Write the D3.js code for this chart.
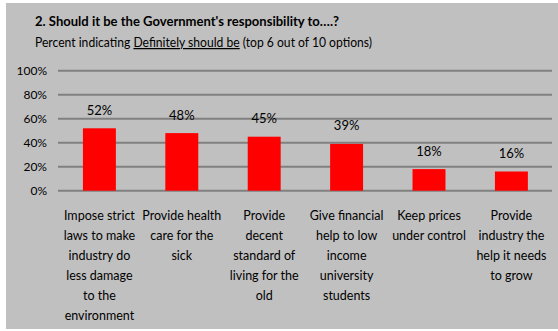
<!DOCTYPE html>
<html><head><meta charset="utf-8">
<script src="https://cdn.jsdelivr.net/npm/d3@7"></script>
<style>
html,body{margin:0;padding:0;background:#fff;}
svg{display:block;font-family:Lato,"Open Sans",sans-serif;}
</style></head>
<body>
<svg id="chart" width="558" height="331"></svg>
<script>
const categories = [
  ["Impose strict","laws to make","industry do","less damage","to the","environment"],
  ["Provide health","care for the","sick"],
  ["Provide","decent","standard of","living for the","old"],
  ["Give financial","help to low","income","university","students"],
  ["Keep prices","under control"],
  ["Provide","industry the","help it needs","to grow"]
];
const values = [52, 48, 45, 39, 18, 16];
const yTicks = [0, 20, 40, 60, 80, 100];
const title = "2. Should it be the Government's responsibility to\u2026.?";

const svg = d3.select("#chart");
svg.append("rect").attr("x",6).attr("y",3).attr("width",552).attr("height",326).attr("fill","#c0c0c0");

svg.append("text").attr("x",35).attr("y",26).attr("font-size",14).attr("font-weight","bold").attr("fill","#000")
  .attr("textLength",304).attr("lengthAdjust","spacingAndGlyphs").text(title);
const sub = svg.append("text").attr("x",35).attr("y",47).attr("font-size",12.5).attr("fill","#000")
  .attr("textLength",337).attr("lengthAdjust","spacingAndGlyphs");
sub.append("tspan").text("Percent indicating ");
sub.append("tspan").attr("text-decoration","underline").text("Definitely should be");
sub.append("tspan").text(" (top 6 out of 10 options)");

const x = d3.scaleBand().domain(d3.range(values.length)).range([58.2, 552.6]).paddingInner(0.6).paddingOuter(0.3);
const y = d3.scaleLinear().domain([0,100]).range([190.7, 70.7]);

const grid = svg.append("g");
grid.selectAll("line").data(yTicks).join("line")
  .attr("x1",58).attr("x2",552)
  .attr("y1",d=>y(d)).attr("y2",d=>y(d))
  .attr("stroke","#808080").attr("stroke-width",2);

const yAxis = d3.axisLeft(y).tickValues(yTicks).tickFormat(d=>d+"%").tickSize(0).tickPadding(0);
const ya = svg.append("g").attr("transform","translate(47,0)").call(yAxis);
ya.select(".domain").remove();
ya.selectAll("text").attr("font-size",12).attr("font-family","Lato,'Open Sans',sans-serif").attr("fill","#000").attr("dy","0.35em");

svg.append("g").selectAll("rect").data(values).join("rect")
  .attr("x",(d,i)=>x(i)).attr("width",x.bandwidth())
  .attr("y",d=>y(d)).attr("height",d=>y(0)-y(d))
  .attr("fill","#ff0000");

svg.append("g").selectAll("text").data(values).join("text")
  .attr("x",(d,i)=>x(i)+x.bandwidth()/2).attr("y",d=>y(d)-13.5)
  .attr("text-anchor","middle").attr("font-size",13).attr("fill","#000")
  .text(d=>d+"%");

const cl = svg.append("g").selectAll("text").data(categories).join("text")
  .attr("text-anchor","middle").attr("font-size",12.5).attr("fill","#000");
cl.each(function(lines,i){
  d3.select(this).selectAll("tspan").data(lines).join("tspan")
    .attr("x",x(i)+x.bandwidth()/2).attr("y",(d,j)=>219.5+j*20).text(d=>d);
});
</script>
</body></html>
